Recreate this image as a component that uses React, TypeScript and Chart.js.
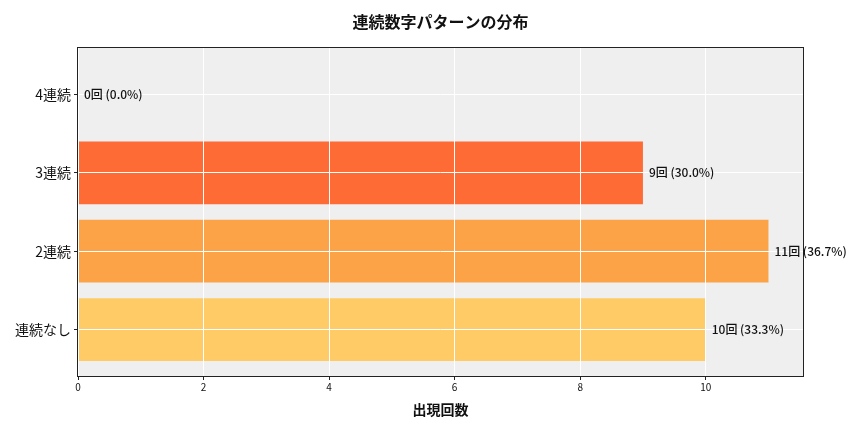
import React, { useEffect, useRef } from 'react';
import { Chart, registerables } from 'chart.js';

Chart.register(...registerables);

const categories = ['連続なし', '2連続', '3連続', '4連続'];
const counts = [10, 11, 9, 0];
const barColors = ['#FECB66', '#FDA347', '#FF6B35', '#FF6B35'];
const xTickValues = [0, 2, 4, 6, 8, 10];
const titleText = '連続数字パターンの分布';
const xTitleText = '出現回数';

const FONT = "'Noto Sans CJK JP', 'Noto Sans', sans-serif";

export default function App() {
  const ref = useRef<HTMLCanvasElement | null>(null);

  useEffect(() => {
    document.body.style.margin = '0';
    const canvas = ref.current;
    if (!canvas) return;
    const total = counts.reduce((a, b) => a + b, 0);

    const decor = {
      id: 'decor',
      beforeDraw(chart: any) {
        const { ctx, chartArea } = chart;
        ctx.save();
        ctx.fillStyle = '#ffffff';
        ctx.fillRect(0, 0, chart.width, chart.height);
        ctx.fillStyle = '#EFEFEF';
        ctx.fillRect(chartArea.left, chartArea.top, chartArea.right - chartArea.left, chartArea.bottom - chartArea.top);
        ctx.restore();
      },
      afterDraw(chart: any) {
        const { ctx, chartArea, scales } = chart;
        ctx.save();
        ctx.strokeStyle = '#222222';
        ctx.lineWidth = 1;
        ctx.strokeRect(chartArea.left - 0.5, chartArea.top - 0.5, chartArea.right - chartArea.left + 1, chartArea.bottom - chartArea.top + 1);
        ctx.fillStyle = '#111111';
        ctx.font = `500 12px ${FONT}`;
        ctx.textAlign = 'left';
        ctx.textBaseline = 'middle';
        counts.forEach((v, i) => {
          const pct = total ? ((v / total) * 100).toFixed(1) : '0.0';
          const x = scales.x.getPixelForValue(v) + 6;
          const y = scales.y.getPixelForValue(i);
          ctx.fillText(`${v}回 (${pct}%)`, x, y);
        });
        const cx = (chartArea.left + chartArea.right) / 2;
        ctx.fillStyle = '#111111';
        ctx.font = `bold 16px ${FONT}`;
        ctx.textAlign = 'center';
        ctx.fillText(titleText, cx, 22);
        ctx.font = `bold 14px ${FONT}`;
        ctx.fillText(xTitleText, cx, 410);
        ctx.restore();
      },
    };

    const chart = new Chart(canvas, {
      type: 'bar',
      data: {
        datasets: [
          {
            data: counts.map((v, i) => ({ x: v, y: i })),
            backgroundColor: barColors,
            borderWidth: 0,
            barPercentage: 0.8,
            categoryPercentage: 1,
          },
        ],
      },
      options: {
        indexAxis: 'y',
        animation: false,
        responsive: false,
        devicePixelRatio: 1,
        layout: { padding: { left: 0, top: 48, right: 61, bottom: 0 } },
        plugins: {
          legend: { display: false },
          title: { display: false },
          tooltip: { enabled: false },
        },
        scales: {
          x: {
            type: 'linear',
            min: 0,
            max: 11.55,
            offset: false,
            afterBuildTicks: (scale: any) => {
              scale.ticks = xTickValues.map((v) => ({ value: v }));
            },
            afterFit: (scale: any) => {
              scale.height = 56;
            },
            grid: { color: '#ffffff', lineWidth: 1, tickColor: '#222222', tickLength: 4, offset: false, z: 1 },
            border: { display: false },
            ticks: {
              color: '#111111',
              font: { family: FONT, size: 10 },
              padding: 1,
              maxRotation: 0,
              callback: (v: any) => String(v),
            },
          },
          y: {
            type: 'linear',
            min: -0.59,
            max: 3.59,
            offset: false,
            afterBuildTicks: (scale: any) => {
              scale.ticks = categories.map((_, i) => ({ value: i }));
            },
            afterFit: (scale: any) => {
              scale.width = 78;
            },
            grid: { color: '#ffffff', lineWidth: 1, tickColor: '#222222', tickLength: 4, offset: false, z: 1 },
            border: { display: false },
            ticks: {
              color: '#111111',
              font: { family: FONT, size: 14 },
              padding: 3,
              callback: (v: any) => categories[Math.round(Number(v))] ?? '',
            },
          },
        },
      },
      plugins: [decor],
    } as any);

    return () => chart.destroy();
  }, []);

  return (
    <div style={{ width: 864, height: 432 }}>
      <canvas ref={ref} width={864} height={432} style={{ display: 'block' }} />
    </div>
  );
}
